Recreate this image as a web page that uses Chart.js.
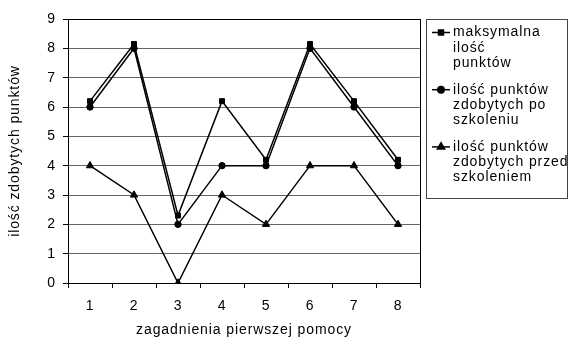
<!DOCTYPE html>
<html lang="pl">
<head>
    <meta charset="UTF-8">
    <title>ilość zdobytych punktów</title>
    <script src="https://cdn.jsdelivr.net/npm/chart.js"></script>
    <style>
        html, body { margin: 0; padding: 0; background: #fff; }
        #wrap { width: 568px; height: 340px; }
    </style>
</head>
<body>
    <div id="wrap">
        <canvas id="pointsChart" width="568" height="340"></canvas>
    </div>
    <script>
        // dane
        const categories = ['1', '2', '3', '4', '5', '6', '7', '8'];
        const maxPoints = [6.2, 8.15, 2.3, 6.2, 4.2, 8.15, 6.2, 4.2];
        const afterTraining = [6, 8, 2, 4, 4, 8, 6, 4];
        const beforeTraining = [4, 3, 0, 3, 2, 4, 4, 2];
        const yTicks = [0, 1, 2, 3, 4, 5, 6, 7, 8, 9];

        const labelMax = ['maksymalna', 'ilość', 'punktów'];
        const labelAfter = ['ilość punktów', 'zdobytych po', 'szkoleniu'];
        const labelBefore = ['ilość punktów', 'zdobytych przed', 'szkoleniem'];

        const FONT = 'Liberation Sans, Arial, sans-serif';
        const SPACING = '0.9px';

        function series(label, data, style, radius)
        {
            return {
                label: label,
                data: data,
                borderColor: '#000',
                backgroundColor: '#000',
                borderWidth: 1.5,
                tension: 0,
                pointStyle: style,
                pointRadius: radius,
                pointHoverRadius: radius,
                pointBackgroundColor: '#000',
                pointBorderColor: '#000',
                pointBorderWidth: 1
            };
        }

        // odstepy liter jak w oryginale
        const spacingPlugin = {
            id: 'spacing',
            beforeLayout(chart) { chart.ctx.letterSpacing = SPACING; },
            beforeDraw(chart) { chart.ctx.letterSpacing = SPACING; }
        };

        // ramka wykresu i legenda z zawijanym tekstem
        const boxLegend = {
            id: 'boxLegend',
            afterDraw(chart)
            {
                const ctx = chart.ctx;
                const area = chart.chartArea;
                ctx.save();
                ctx.letterSpacing = SPACING;
                ctx.strokeStyle = '#000';
                ctx.lineWidth = 1;
                ctx.beginPath();
                ctx.moveTo(Math.round(area.right) + 0.5, Math.round(area.top));
                ctx.lineTo(Math.round(area.right) + 0.5, Math.round(area.bottom));
                ctx.stroke();

                const left = area.right + 6;
                const top = area.top;
                ctx.strokeStyle = '#444';
                ctx.strokeRect(Math.round(left) + 0.5, Math.round(top) + 0.5, 141, 179);

                ctx.font = '14px ' + FONT;
                ctx.fillStyle = '#000';
                ctx.textBaseline = 'middle';
                ctx.textAlign = 'left';
                const lineH = 15.3;
                chart.data.datasets.forEach((ds, i) =>
                {
                    const y = top + 13.5 + i * 57.2;
                    ctx.strokeStyle = '#000';
                    ctx.lineWidth = 1.5;
                    ctx.beginPath();
                    ctx.moveTo(left + 6, y);
                    ctx.lineTo(left + 24, y);
                    ctx.stroke();
                    Chart.helpers.drawPoint(ctx, {
                        pointStyle: ds.pointStyle,
                        radius: ds.pointRadius,
                        borderWidth: 1,
                        rotation: 0
                    }, left + 15, y);
                    ctx.fill();
                    ds.label.forEach((line, j) =>
                    {
                        ctx.fillText(line, left + 27, y + j * lineH);
                    });
                });
                ctx.restore();
            }
        };

        const ctx = document.getElementById('pointsChart').getContext('2d');
        new Chart(ctx,
        {
            type: 'line',
            data:
            {
                labels: categories,
                datasets:
                [
                    series(labelMax, maxPoints, 'rect', 3.5),
                    series(labelAfter, afterTraining, 'circle', 3.2),
                    series(labelBefore, beforeTraining, 'triangle', 4.2)
                ]
            },
            options:
            {
                responsive: false,
                animation: false,
                events: [],
                layout: { padding: { left: 0, top: 19, right: 148, bottom: 0 } },
                plugins:
                {
                    legend: { display: false },
                    tooltip: { enabled: false }
                },
                scales:
                {
                    x:
                    {
                        offset: true,
                        grid:
                        {
                            offset: true,
                            drawOnChartArea: false,
                            drawTicks: true,
                            tickLength: 5,
                            color: '#000',
                            tickColor: '#000'
                        },
                        border: { display: true, color: '#000', width: 1 },
                        ticks:
                        {
                            color: '#000',
                            padding: 10,
                            maxRotation: 0,
                            font: { family: FONT, size: 14 }
                        },
                        title:
                        {
                            display: true,
                            text: 'zagadnienia pierwszej pomocy',
                            color: '#000',
                            padding: { top: 0, bottom: 1 },
                            font: { family: FONT, size: 14 }
                        },
                        afterFit(scale) { scale.height = 57; }
                    },
                    y:
                    {
                        min: 0,
                        max: 9,
                        afterBuildTicks(scale)
                        {
                            scale.ticks = yTicks.map(v => ({ value: v }));
                        },
                        grid:
                        {
                            color: ctx2 => ctx2.tick && ctx2.tick.value === 9 ? '#000' : '#666',
                            tickColor: '#000',
                            tickLength: 5
                        },
                        border: { display: true, color: '#000', width: 1 },
                        ticks:
                        {
                            color: '#000',
                            padding: 7,
                            font: { family: FONT, size: 14 }
                        },
                        title:
                        {
                            display: true,
                            text: 'ilość zdobytych punktów',
                            color: '#000',
                            padding: { top: 7, bottom: 0 },
                            font: { family: FONT, size: 14 }
                        },
                        afterFit(scale) { scale.width = 68; }
                    }
                }
            },
            plugins: [spacingPlugin, boxLegend]
        });
    </script>
</body>
</html>
